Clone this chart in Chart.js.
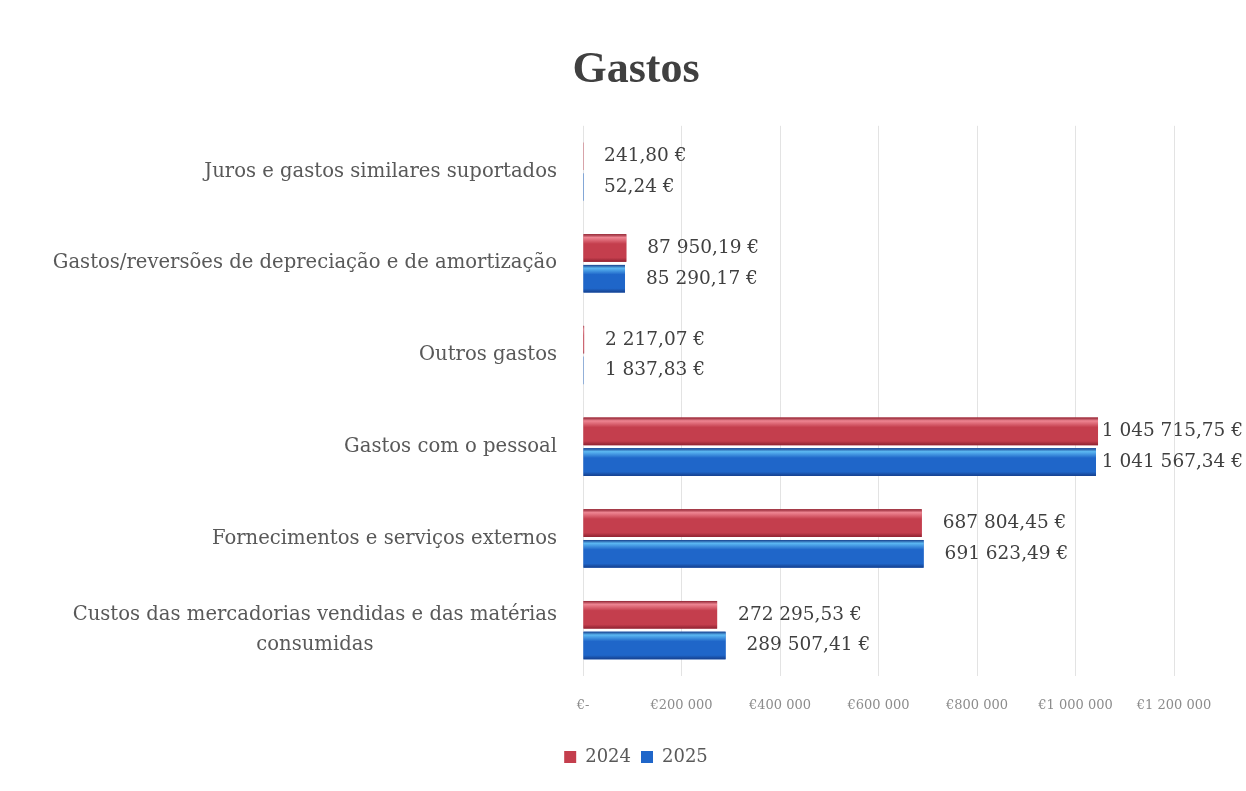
<!DOCTYPE html>
<html>
<head>
<meta charset="utf-8">
<script src="https://cdn.jsdelivr.net/npm/chart.js@4.4.1/dist/chart.umd.min.js"></script>
<style>
  html,body{margin:0;padding:0;background:#ffffff;}
  #wrap{width:1246px;height:791px;position:relative;}
</style>
</head>
<body>
<div id="wrap"><canvas id="c" width="1246" height="791"></canvas></div>
<script>
const categories = [
  "Juros e gastos similares suportados",
  "Gastos/reversões de depreciação e de amortização",
  "Outros gastos",
  "Gastos com o pessoal",
  "Fornecimentos e serviços externos",
  ["Custos das mercadorias vendidas e das matérias", "consumidas"]
];
const values2024 = [241.80, 87950.19, 2217.07, 1045715.75, 687804.45, 272295.53];
const values2025 = [52.24, 85290.17, 1837.83, 1041567.34, 691623.49, 289507.41];
const seriesNames = ["2024", "2025"];
const tickLabels = ["€-", "€200 000", "€400 000", "€600 000", "€800 000", "€1 000 000", "€1 200 000"];

const SERIF = "'DejaVu Serif', 'Liberation Serif', serif";
const TITLE_FONT = "'Liberation Serif', 'DejaVu Serif', serif";
const CAT_SIZE = 19.6;
const CAT_COLOR = "#595959";

function fmtEuro(v){
  const parts = v.toFixed(2).split(".");
  const int = parts[0].replace(/\B(?=(\d{3})+(?!\d))/g, " ");
  return int + "," + parts[1] + " €";
}

const palettes = [
  {top:"#ee8592", mid:"#c43e4d", bot:"#8e2231"},
  {top:"#5cb8f2", mid:"#1f66c9", bot:"#153f8c"}
];

const barShade = {
  id: "barShade",
  afterDatasetsDraw(chart){
    const ctx = chart.ctx;
    chart.data.datasets.forEach((ds, di) => {
      const meta = chart.getDatasetMeta(di);
      const p = palettes[di];
      meta.data.forEach((el) => {
        const props = el.getProps(["x","y","base","height"], true);
        const x0 = Math.min(props.base, props.x), x1 = Math.max(props.base, props.x);
        const y0 = props.y - props.height/2, y1 = props.y + props.height/2;
        if (x1 - x0 < 0.5) return;
        const g = ctx.createLinearGradient(0, y0, 0, y1);
        g.addColorStop(0, p.bot);
        g.addColorStop(0.12, p.top);
        g.addColorStop(0.35, p.mid);
        g.addColorStop(0.85, p.mid);
        g.addColorStop(1, p.bot);
        ctx.save();
        ctx.fillStyle = g;
        ctx.fillRect(x0, y0, x1 - x0, y1 - y0);
        ctx.restore();
      });
    });
  }
};

const dataLabels = {
  id: "dataLabels",
  afterDatasetsDraw(chart){
    const ctx = chart.ctx;
    ctx.save();
    ctx.font = "18.5px " + SERIF;
    ctx.fillStyle = "#404040";
    ctx.textAlign = "left";
    ctx.textBaseline = "middle";
    chart.data.datasets.forEach((ds, di) => {
      const meta = chart.getDatasetMeta(di);
      meta.data.forEach((el, i) => {
        const props = el.getProps(["x","y"], true);
        const txt = fmtEuro(ds.data[i]);
        const w = ctx.measureText(txt).width;
        let tx = props.x + 21;
        if (tx + w > chart.width - 3) tx = chart.width - 3 - w;
        ctx.fillText(txt, tx, props.y);
      });
    });
    ctx.restore();
  }
};

// multi-line category labels: lines centred on each other, block right-aligned to the axis
const multiLineLabels = {
  id: "multiLineLabels",
  afterDraw(chart){
    const scale = chart.scales.y;
    const ctx = chart.ctx;
    ctx.save();
    ctx.font = CAT_SIZE + "px " + SERIF;
    ctx.fillStyle = CAT_COLOR;
    ctx.textBaseline = "middle";
    ctx.textAlign = "center";
    const rightEdge = scale.right - 26;
    const lh = 30;
    categories.forEach((lab, i) => {
      if (!Array.isArray(lab)) return;
      const maxW = Math.max(...lab.map(s => ctx.measureText(s).width));
      const cx = rightEdge - maxW / 2;
      const cy = scale.getPixelForValue(i);
      lab.forEach((line, k) => {
        ctx.fillText(line, cx, cy + (k - (lab.length - 1) / 2) * lh);
      });
    });
    ctx.restore();
  }
};

new Chart(document.getElementById("c"), {
  type: "bar",
  data: {
    labels: categories,
    datasets: [
      {label: seriesNames[0], data: values2024, backgroundColor: "#c43e4d", borderWidth: 0},
      {label: seriesNames[1], data: values2025, backgroundColor: "#1f66c9", borderWidth: 0}
    ]
  },
  options: {
    indexAxis: "y",
    responsive: false,
    animation: false,
    devicePixelRatio: 1,
    categoryPercentage: 0.67,
    barPercentage: 0.9,
    layout: {padding: {left: 26, right: 0, top: 0, bottom: 15}},
    plugins: {
      title: {
        display: true,
        text: "Gastos",
        color: "#404040",
        font: {family: TITLE_FONT, size: 44, weight: "bold"},
        padding: {top: 44, bottom: 29}
      },
      legend: {
        position: "bottom",
        labels: {
          boxWidth: 12, boxHeight: 12,
          color: "#595959",
          font: {family: SERIF, size: 18},
          padding: 10
        }
      },
      tooltip: {enabled: false}
    },
    scales: {
      x: {
        min: 0, max: 1200000,
        ticks: {
          stepSize: 200000,
          color: "#8c8c8c",
          font: {family: SERIF, size: 13},
          padding: 22,
          maxRotation: 0,
          callback: (v) => tickLabels[Math.round(v / 200000)]
        },
        grid: {color: "#e3e3e3", drawTicks: false},
        border: {display: false},
        afterFit(scale){ scale.height = 62; }
      },
      y: {
        ticks: {
          color: CAT_COLOR,
          font: {family: SERIF, size: CAT_SIZE},
          padding: 18,
          callback: function(v, i){ const l = categories[i]; return Array.isArray(l) ? "" : l; }
        },
        grid: {display: false},
        border: {display: false},
        afterFit(scale){ scale.width = 557; }
      },
      yRight: {
        type: "category",
        position: "right",
        display: true,
        ticks: {display: false},
        grid: {display: false},
        border: {display: false},
        afterFit(scale){ scale.width = 72; }
      }
    }
  },
  plugins: [barShade, dataLabels, multiLineLabels]
});
</script>
</body>
</html>
